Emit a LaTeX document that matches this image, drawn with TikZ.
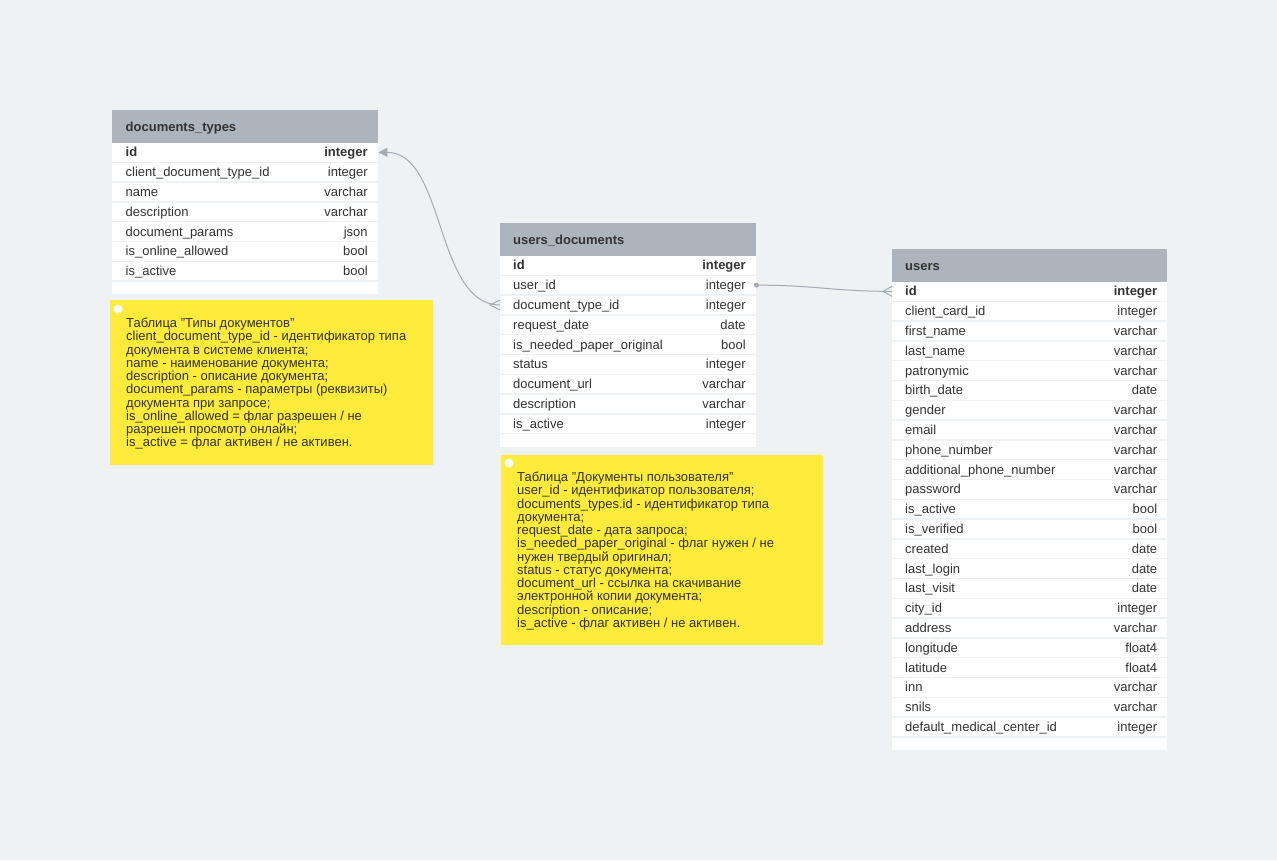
\documentclass[tikz,border=0pt]{standalone}
\usepackage{fontspec}
\setmainfont{Liberation Sans}
\usetikzlibrary{arrows.meta}

\definecolor{canvas}{HTML}{EEF2F5}
\definecolor{headgray}{HTML}{ADB4BC}
\definecolor{inkgray}{HTML}{333333}
\definecolor{notey}{HTML}{FFEB3B}
\definecolor{linkgray}{HTML}{A4ABB3}

\tikzset{
  tablehead/.style={fill=headgray, anchor=north west, inner sep=0pt, minimum height=33pt},
  headtext/.style={anchor=base west, font=\fontsize{13}{15}\selectfont\bfseries, text=inkgray, inner sep=0pt},
  fieldrow/.style={fill=white, anchor=north west, inner sep=0pt, minimum height=18.3pt},
  fieldname/.style={anchor=base west, text=inkgray, inner sep=0pt},
  fieldtype/.style={anchor=base east, text=inkgray, inner sep=0pt},
  notebox/.style={fill=notey, anchor=north west, inner sep=0pt},
  notetext/.style={anchor=north west, align=left, text=inkgray, inner sep=0pt, font=\fontsize{13}{13.25}\selectfont},
  link/.style={draw=linkgray, line width=1pt},
}

\begin{document}
\catcode`\_=12
\begin{tikzpicture}[x=1pt, y=-1pt, font=\fontsize{13}{15}\selectfont]
\fill[canvas] (0,0) rectangle (1277,860);
\useasboundingbox (0,0) rectangle (1277,860);

% documents_types
\node[tablehead, minimum width=266pt] (dt) at (112,110) {};
\node[headtext] (dt-h) at ([xshift=13.5pt, yshift=-4.6pt]dt.west) {documents_types};
\foreach \f/\t [count=\i] in {id/integer, client_document_type_id/integer, name/varchar, description/varchar, document_params/json, is_online_allowed/bool, is_active/bool} {
  \node[fieldrow, minimum width=266pt] (dt-\i) at (112,{143+19.8*(\i-1)}) {};
  \node[fieldname] (dt-\i-n) at ([xshift=13.5pt, yshift=-4.6pt]dt-\i.west) {\ifnum\i=1 \bfseries\fi\f};
  \node[fieldtype] (dt-\i-t) at ([xshift=-10.5pt, yshift=-4.6pt]dt-\i.east) {\ifnum\i=1 \bfseries\fi\t};
}
\node[fieldrow, minimum width=266pt, minimum height=12.4pt] (dt-end) at (112,281.6) {};

% users_documents
\node[tablehead, minimum width=256pt] (ud) at (500,223) {};
\node[headtext] (ud-h) at ([xshift=13pt, yshift=-4.6pt]ud.west) {users_documents};
\foreach \f/\t [count=\i] in {id/integer, user_id/integer, document_type_id/integer, request_date/date, is_needed_paper_original/bool, status/integer, document_url/varchar, description/varchar, is_active/integer} {
  \node[fieldrow, minimum width=256pt] (ud-\i) at (500,{256+19.8*(\i-1)}) {};
  \node[fieldname] (ud-\i-n) at ([xshift=13pt, yshift=-4.6pt]ud-\i.west) {\ifnum\i=1 \bfseries\fi\f};
  \node[fieldtype] (ud-\i-t) at ([xshift=-10.5pt, yshift=-4.6pt]ud-\i.east) {\ifnum\i=1 \bfseries\fi\t};
}
\node[fieldrow, minimum width=256pt, minimum height=12.6pt] (ud-end) at (500,434.2) {};

% users
\node[tablehead, minimum width=275pt] (u) at (892,249) {};
\node[headtext] (u-h) at ([xshift=13pt, yshift=-4.6pt]u.west) {users};
\foreach \f/\t [count=\i] in {id/integer, client_card_id/integer, first_name/varchar, last_name/varchar, patronymic/varchar, birth_date/date, gender/varchar, email/varchar, phone_number/varchar, additional_phone_number/varchar, password/varchar, is_active/bool, is_verified/bool, created/date, last_login/date, last_visit/date, city_id/integer, address/varchar, longitude/float4, latitude/float4, inn/varchar, snils/varchar, default_medical_center_id/integer} {
  \node[fieldrow, minimum width=275pt] (u-\i) at (892,{282+19.8*(\i-1)}) {};
  \node[fieldname] (u-\i-n) at ([xshift=13pt, yshift=-4.6pt]u-\i.west) {\ifnum\i=1 \bfseries\fi\f};
  \node[fieldtype] (u-\i-t) at ([xshift=-10pt, yshift=-4.6pt]u-\i.east) {\ifnum\i=1 \bfseries\fi\t};
}
\node[fieldrow, minimum width=275pt, minimum height=12pt] (u-end) at (892,737.4) {};

% notes
\node[notebox, minimum width=323pt, minimum height=165pt] (dt-note) at (110,300) {};
\fill[white] (118,309) circle (4.5);
\node[notetext] (dt-note-text) at (126,318) {Таблица "Типы документов"\\
client_document_type_id - идентификатор типа\\
документа в системе клиента;\\
name - наименование документа;\\
description - описание документа;\\
document_params - параметры (реквизиты)\\
документа при запросе;\\
is_online_allowed = флаг разрешен / не\\
разрешен просмотр онлайн;\\
is_active = флаг активен / не активен.};

\node[notebox, minimum width=322pt, minimum height=190pt] (ud-note) at (501,455) {};
\fill[white] (509,463) circle (4.5);
\node[notetext] (ud-note-text) at (517,472) {Таблица "Документы пользователя"\\
user_id - идентификатор пользователя;\\
documents_types.id - идентификатор типа\\
документа;\\
request_date - дата запроса;\\
is_needed_paper_original - флаг нужен / не\\
нужен твердый оригинал;\\
status - статус документа;\\
document_url - ссылка на скачивание\\
электронной копии документа;\\
description - описание;\\
is_active - флаг активен / не активен.};

% links
\draw[link, -{Triangle[length=9pt, width=9pt]}] (ud-3.west) .. controls +(-65,0) and +(67,0) .. (dt-1.east);
\draw[link] (ud-3.west) ++(0,-5) -- ++(-10,5) -- ++(10,5);
\draw[link] (ud-2.east) .. controls +(60,0) and +(-60,0) .. (u-1.west);
\draw[link] (u-1.west) ++(0,-5) -- ++(-9,5) -- ++(9,5);
\fill[linkgray] (ud-2.east) circle (2.5);
\end{tikzpicture}
\end{document}
